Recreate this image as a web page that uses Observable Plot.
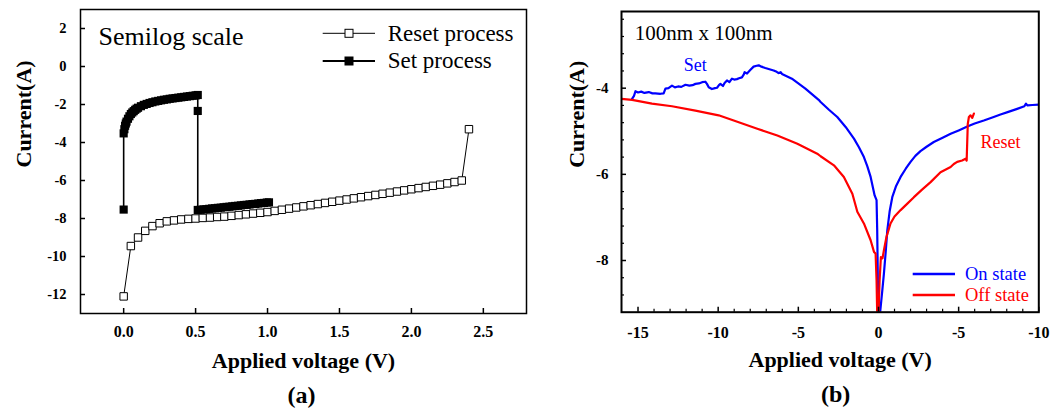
<!DOCTYPE html>
<html><head><meta charset="utf-8">
<script src="https://cdn.jsdelivr.net/npm/d3@7"></script>
<script src="https://cdn.jsdelivr.net/npm/@observablehq/plot@0.6"></script>
<style>
body{margin:0;background:#fff;}
#wrap{position:relative;width:1051px;height:412px;overflow:hidden;font-family:"Liberation Serif","Times New Roman",serif;}
.panel{position:absolute;top:0;}
#legend{position:absolute;left:0;top:0;pointer-events:none;}
</style></head><body>
<div id="wrap">
<div id="pa" class="panel" style="left:0px"></div>
<div id="pb" class="panel" style="left:530px"></div>
<svg id="legend" width="1051" height="412"></svg>
</div>
<script>
// ---------- Panel (a): semilog I-V ----------
const resetV = [0,0.05,0.1,0.15,0.2,0.25,0.3,0.35,0.4,0.45,0.5,0.55,0.6,0.65,0.7,0.75,0.8,0.85,0.9,0.95,1.0,1.05,1.1,1.15,1.2,1.25,1.3,1.35,1.4,1.45,1.5,1.55,1.6,1.65,1.7,1.75,1.8,1.85,1.9,1.95,2.0,2.05,2.1,2.15,2.2,2.25,2.3,2.35,2.4];
const resetI = [-12.1,-9.45,-9.0,-8.65,-8.4,-8.25,-8.15,-8.1,-8.05,-8.02,-8.0,-7.97,-7.95,-7.92,-7.9,-7.86,-7.82,-7.78,-7.74,-7.7,-7.66,-7.6,-7.54,-7.48,-7.42,-7.36,-7.3,-7.24,-7.18,-7.12,-7.06,-7.0,-6.94,-6.88,-6.82,-6.76,-6.7,-6.64,-6.58,-6.52,-6.46,-6.4,-6.34,-6.28,-6.22,-6.15,-6.08,-6.0,-3.3];
const setV = [0,0,0.005,0.01,0.015,0.02,0.03,0.04,0.05,0.06,0.07,0.08,0.09,0.1,0.12,0.14,0.16,0.18,0.2,0.22,0.24,0.26,0.28,0.3,0.32,0.34,0.36,0.38,0.4,0.42,0.44,0.46,0.48,0.5,0.515,0.515,0.515,0.535,0.555,0.575,0.595,0.615,0.635,0.655,0.675,0.695,0.715,0.735,0.755,0.775,0.795,0.815,0.835,0.855,0.875,0.895,0.915,0.935,0.955,0.975,0.995,1.01];
const setI = [-7.53,-3.52,-3.3,-3.12,-3.0,-2.9,-2.75,-2.62,-2.5,-2.42,-2.35,-2.28,-2.22,-2.17,-2.09,-2.02,-1.97,-1.92,-1.88,-1.84,-1.81,-1.78,-1.75,-1.73,-1.7,-1.68,-1.66,-1.64,-1.62,-1.6,-1.58,-1.56,-1.54,-1.52,-1.5,-2.34,-7.55,-7.54,-7.52,-7.51,-7.49,-7.47,-7.46,-7.44,-7.43,-7.41,-7.39,-7.38,-7.36,-7.34,-7.33,-7.31,-7.29,-7.28,-7.26,-7.24,-7.23,-7.21,-7.19,-7.18,-7.16,-7.15];
const xTicksA = [0,0.5,1.0,1.5,2.0,2.5];
const xTickLabelsA = ["0.0","0.5","1.0","1.5","2.0","2.5"];
const yTicksA = [2,0,-2,-4,-6,-8,-10,-12];
const yTickLabelsA = ["2","0","-2","-4","-6","-8","-10","-12"];

// ---------- Panel (b): 100nm x 100nm ----------
const onV = [-15.37,-15.25,-15.16,-15.0,-14.8,-14.6,-14.33,-14.1,-13.92,-13.6,-13.4,-13.29,-13.1,-12.88,-12.7,-12.5,-12.3,-12.04,-11.8,-11.6,-11.42,-11.2,-11.0,-10.8,-10.7,-10.59,-10.39,-10.2,-10.07,-9.95,-9.86,-9.7,-9.6,-9.45,-9.3,-9.14,-9.0,-8.83,-8.7,-8.52,-8.4,-8.35,-8.2,-8.0,-7.79,-7.6,-7.47,-7.3,-7.06,-6.8,-6.54,-6.35,-6.23,-6.1,-6.02,-5.4,-4.56,-3.73,-3.61,-3.09,-2.57,-2.05,-1.53,-1.22,-0.91,-0.7,-0.49,-0.24,-0.12,-0.08,-0.04,0.03,0.09,0.24,0.34,0.45,0.55,0.7,0.86,1.1,1.38,1.7,2.0,2.3,2.62,3.0,3.45,4.0,4.5,5.0,5.54,6.0,6.57,7.1,7.61,8.1,8.65,9.1,9.2,9.3,9.6,10.0];
const onI = [-4.25,-4.18,-4.07,-4.1,-4.08,-4.11,-4.09,-4.12,-4.12,-4.13,-4.12,-4.01,-4.0,-3.94,-3.98,-3.96,-3.97,-3.92,-3.94,-3.93,-3.9,-3.89,-3.86,-3.85,-3.9,-3.98,-4.02,-4.0,-3.99,-3.93,-3.9,-3.95,-3.88,-3.82,-3.86,-3.78,-3.8,-3.79,-3.77,-3.75,-3.68,-3.63,-3.66,-3.58,-3.5,-3.48,-3.47,-3.5,-3.53,-3.56,-3.59,-3.62,-3.65,-3.63,-3.67,-3.78,-4.01,-4.27,-4.32,-4.5,-4.67,-4.9,-5.17,-5.37,-5.6,-5.81,-6.06,-6.49,-6.6,-7.3,-8.46,-9.25,-9.25,-8.69,-8.3,-7.8,-7.3,-6.85,-6.53,-6.27,-6.06,-5.87,-5.71,-5.57,-5.46,-5.36,-5.25,-5.15,-5.06,-4.98,-4.89,-4.82,-4.75,-4.68,-4.61,-4.55,-4.48,-4.42,-4.36,-4.4,-4.39,-4.38];
const offV = [-16.03,-15.37,-14.13,-12.88,-11.42,-9.97,-9.03,-7.56,-6.31,-5.06,-3.82,-3.61,-2.78,-2.16,-1.63,-1.32,-0.91,-0.49,-0.28,-0.18,-0.12,-0.08,0.0,0.07,0.15,0.25,0.34,0.5,0.75,1.0,1.38,1.8,2.21,2.7,3.25,3.87,4.5,4.7,4.91,5.22,5.43,5.5,5.57,5.64,5.74,5.85,5.95];
const offI = [-4.25,-4.27,-4.36,-4.42,-4.52,-4.63,-4.75,-4.94,-5.1,-5.29,-5.52,-5.58,-5.79,-6.06,-6.45,-6.87,-7.14,-7.53,-7.8,-7.84,-8.46,-9.25,-9.25,-8.46,-7.92,-7.95,-7.76,-7.45,-7.14,-6.98,-6.83,-6.68,-6.53,-6.36,-6.18,-5.95,-5.83,-5.76,-5.71,-5.68,-5.64,-5.68,-4.83,-4.67,-4.63,-4.69,-4.59];
const xTicksB = [-15,-10,-5,0,5,10];
const xTickLabelsB = ["-15","-10","-5","0","-5","-10"];
const xMinorB = [-14,-13,-12,-11,-9,-8,-7,-6,-4,-3,-2,-1,1,2,3,4,6,7,8,9];
const yTicksB = [-4,-6,-8];
const yTickLabelsB = ["-4","-6","-8"];
const yMinorB = [-2.4,-2.8,-3.2,-3.6,-4.4,-4.8,-5.2,-5.6,-6.4,-6.8,-7.2,-7.6,-8.4,-8.8];

const legendA = ["Reset process","Set process"];
const legendB = ["On state","Off state"];
const colorsB = ["#0000ff","#ff0000"];

const serif = "'Liberation Serif', 'Times New Roman', serif";
const zip = (xs, ys) => xs.map((v, k) => ({v, i: ys[k]}));
const resetData = zip(resetV, resetI);
const setData = zip(setV, setI);
const onData = zip(onV, onI);
const offData = zip(offV, offI);
const xlab = (ticks, labels) => ticks.map((t, k) => ({t, s: labels[k]}));

// frame sizes (pixels) used only for tick lengths
const A = {w: 530, h: 412, ml: 80, mr: 4, mt: 9, mb: 99};
const B = {w: 521, h: 412, ml: 91, mr: 12.7, mt: 11, mb: 100.3};
const fw = p => p.w - p.ml - p.mr, fh = p => p.h - p.mt - p.mb;

const plotA = Plot.plot({
  width: A.w, height: A.h,
  marginLeft: A.ml, marginRight: A.mr, marginTop: A.mt, marginBottom: A.mb,
  x: {domain: [-0.3, 2.8], axis: null},
  y: {domain: [-13, 3], axis: null},
  style: {fontFamily: serif, background: "transparent", overflow: "visible", color: "black"},
  marks: [
    Plot.line(resetData, {x: "v", y: "i", stroke: "black", strokeWidth: 1}),
    Plot.dot(resetData, {x: "v", y: "i", symbol: "square", r: 4.2, fill: "white", stroke: "black", strokeWidth: 1}),
    Plot.line(setData, {x: "v", y: "i", stroke: "black", strokeWidth: 1.6}),
    Plot.dot(setData, {x: "v", y: "i", symbol: "square", r: 4.6, fill: "black", stroke: "none"}),
    Plot.frame({stroke: "black", strokeWidth: 1.5}),
    Plot.tickX(xTicksA, {x: d => d, insetTop: fh(A) - 5, stroke: "black", strokeWidth: 1.5}),
    Plot.tickY(yTicksA, {y: d => d, insetRight: fw(A) - 5, stroke: "black", strokeWidth: 1.5}),
    Plot.text(xlab(xTicksA, xTickLabelsA), {x: "t", text: "s", frameAnchor: "bottom", dy: 12.5, lineAnchor: "top", fontSize: 16, fontWeight: "bold"}),
    Plot.text(xlab(yTicksA, yTickLabelsA), {y: "t", text: "s", frameAnchor: "left", dx: -14, textAnchor: "end", lineAnchor: "middle", fontSize: 14.5, fontWeight: "bold"}),
    Plot.text(["Semilog scale"], {text: d => d, frameAnchor: "top-left", dx: 18, dy: 35, textAnchor: "start", lineAnchor: "bottom", fontSize: 26}),
    Plot.text(["Applied voltage (V)"], {text: d => d, frameAnchor: "bottom", dy: 54, lineAnchor: "bottom", fontSize: 22, fontWeight: "bold"}),
    Plot.text(["(a)"], {text: d => d, frameAnchor: "bottom", dx: -2, dy: 89, lineAnchor: "bottom", fontSize: 24, fontWeight: "bold"}),
    Plot.text(["Current(A)"], {text: d => d, frameAnchor: "left", rotate: -90, dx: -50, dy: 6, lineAnchor: "bottom", fontSize: 22, fontWeight: "bold"})
  ]
});
document.getElementById("pa").appendChild(plotA);

const plotB = Plot.plot({
  width: B.w, height: B.h,
  marginLeft: B.ml, marginRight: B.mr, marginTop: B.mt, marginBottom: B.mb,
  x: {domain: [-16.03, 10], axis: null},
  y: {domain: [-9.2, -2.22], axis: null},
  style: {fontFamily: serif, background: "transparent", overflow: "visible", color: "black"},
  marks: [
    Plot.line(onData, {x: "v", y: "i", stroke: colorsB[0], strokeWidth: 2.2, clip: true, strokeLinejoin: "round"}),
    Plot.line(offData, {x: "v", y: "i", stroke: colorsB[1], strokeWidth: 2.2, clip: true, strokeLinejoin: "round"}),
    Plot.frame({stroke: "black", strokeWidth: 2}),
    Plot.tickX(xMinorB, {x: d => d, insetTop: fh(B) - 3, stroke: "black", strokeWidth: 1.2}),
    Plot.tickX(xTicksB, {x: d => d, insetTop: fh(B) - 5, stroke: "black", strokeWidth: 1.5}),
    Plot.tickY(yMinorB, {y: d => d, insetRight: fw(B) - 3, stroke: "black", strokeWidth: 1.2}),
    Plot.tickY(yTicksB, {y: d => d, insetRight: fw(B) - 5, stroke: "black", strokeWidth: 1.5}),
    Plot.text(xlab(xTicksB, xTickLabelsB), {x: "t", text: "s", frameAnchor: "bottom", dy: 14, lineAnchor: "top", fontSize: 16, fontWeight: "bold"}),
    Plot.text(xlab(yTicksB, yTickLabelsB), {y: "t", text: "s", frameAnchor: "left", dx: -13, textAnchor: "end", lineAnchor: "middle", fontSize: 15, fontWeight: "bold"}),
    Plot.text(["100nm x 100nm"], {text: d => d, frameAnchor: "top-left", dx: 13.3, dy: 28.3, textAnchor: "start", lineAnchor: "bottom", fontSize: 21}),
    Plot.text(["Set"], {text: d => d, frameAnchor: "top-left", dx: 62.3, dy: 59.7, textAnchor: "start", lineAnchor: "bottom", fontSize: 18, fill: colorsB[0]}),
    Plot.text(["Reset"], {text: d => d, frameAnchor: "top-left", dx: 359, dy: 136.3, textAnchor: "start", lineAnchor: "bottom", fontSize: 18, fill: colorsB[1]}),
    Plot.text(["Applied voltage (V)"], {text: d => d, frameAnchor: "bottom", dx: 10, dy: 55, lineAnchor: "bottom", fontSize: 22, fontWeight: "bold"}),
    Plot.text(["(b)"], {text: d => d, frameAnchor: "bottom", dx: 5.5, dy: 90, lineAnchor: "bottom", fontSize: 24, fontWeight: "bold"}),
    Plot.text(["Current(A)"], {text: d => d, frameAnchor: "left", rotate: -90, dx: -38, dy: 6, lineAnchor: "bottom", fontSize: 22, fontWeight: "bold"})
  ]
});
document.getElementById("pb").appendChild(plotB);

// ---------- Legends ----------
const lg = d3.select("#legend");
legendA.forEach((label, k) => {
  const y = [33.3, 61][k];
  const g = lg.append("g");
  g.append("line").attr("x1", 322.7).attr("x2", 375).attr("y1", y).attr("y2", y)
    .attr("stroke", "black").attr("stroke-width", k === 0 ? 1 : 2);
  g.append("rect").attr("x", 349 - 4).attr("y", y - 4).attr("width", 8).attr("height", 8)
    .attr("fill", k === 0 ? "white" : "black").attr("stroke", "black").attr("stroke-width", 1);
  g.append("text").attr("x", 387.7).attr("y", y + 7.2).attr("font-family", serif)
    .attr("font-size", 23).attr("fill", "black").text(label);
});
legendB.forEach((label, k) => {
  const y = [274, 295][k];
  const g = lg.append("g");
  g.append("line").attr("x1", 912.7).attr("x2", 955).attr("y1", y).attr("y2", y)
    .attr("stroke", colorsB[k]).attr("stroke-width", 2.5);
  g.append("text").attr("x", 965).attr("y", y + 6.3).attr("font-family", serif)
    .attr("font-size", 18.5).attr("fill", colorsB[k]).text(label);
});
</script>
</body></html>
